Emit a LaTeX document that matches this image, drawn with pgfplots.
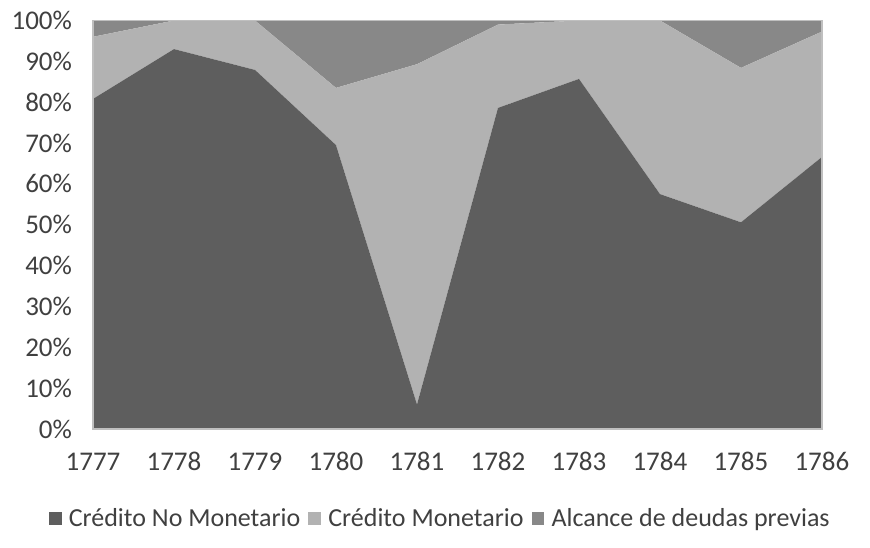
\documentclass[border=0pt]{standalone}
\usepackage{pgfplots}
\pgfplotsset{compat=1.18}
\usepackage{fontspec}
\setmainfont{Carlito}
\definecolor{cDark}{HTML}{5E5E5E}
\definecolor{cMid}{HTML}{B2B2B2}
\definecolor{cTop}{HTML}{888888}
\definecolor{cFrame}{HTML}{BFBFBF}
\definecolor{cText}{HTML}{404040}
\begin{document}
\begin{tikzpicture}
\begin{axis}[
  at={(0,0)}, anchor=south west,
  scale only axis,
  width=364.5bp, height=204.25bp,
  xmin=1777, xmax=1786, ymin=0, ymax=100,
  stack plots=y,
  area style,
  axis line style={draw=cFrame, line width=0.75bp},
  xtick={1777,...,1786},
  ytick={0,10,...,100},
  yticklabel={\pgfmathprintnumber{\tick}\%},
  major tick length=0pt,
  /pgf/number format/1000 sep={},
  /pgf/number format/assume math mode=true,
  tick label style={font=\fontsize{13.5bp}{16bp}\selectfont, text=cText},
  xticklabel style={text height=9bp, text depth=0bp, yshift=-8bp},
  yticklabel style={xshift=-7bp},
  legend columns=3,
  legend style={
    at={(0.477,-0.22)}, anchor=center, draw=none, fill=none,
    font=\fontsize{13bp}{16bp}\selectfont, text=cText,
    /tikz/every even column/.append style={column sep=2.5bp},
    /tikz/every odd column/.append style={column sep=0bp},
    nodes={inner xsep=1.5bp},
  },
  legend image code/.code={\fill[#1] (0bp,-3.2bp) rectangle (6.4bp,3.2bp); \path (8.5bp,0bp);},
]
\addplot[fill=cDark, draw=none] coordinates {
 (1777,80.8) (1778,93.0) (1779,87.9) (1780,69.5) (1781,6.0)
 (1782,78.6) (1783,85.7) (1784,57.5) (1785,50.6) (1786,66.6)} \closedcycle;
\addlegendentry{Crédito No Monetario}
\addplot[fill=cMid, draw=none] coordinates {
 (1777,15.2) (1778,7.0) (1779,12.1) (1780,14.0) (1781,83.3)
 (1782,20.4) (1783,14.3) (1784,42.5) (1785,37.8) (1786,30.7)} \closedcycle;
\addlegendentry{Crédito Monetario}
\addplot[fill=cTop, draw=none] coordinates {
 (1777,4.0) (1778,0.0) (1779,0.0) (1780,16.5) (1781,10.7)
 (1782,1.0) (1783,0.0) (1784,0.0) (1785,11.6) (1786,2.7)} \closedcycle;
\addlegendentry{Alcance de deudas previas}
\end{axis}
\path[use as bounding box] (-46.5bp,-59.5bp) rectangle (388.5bp,214.5bp);
\end{tikzpicture}
\end{document}
